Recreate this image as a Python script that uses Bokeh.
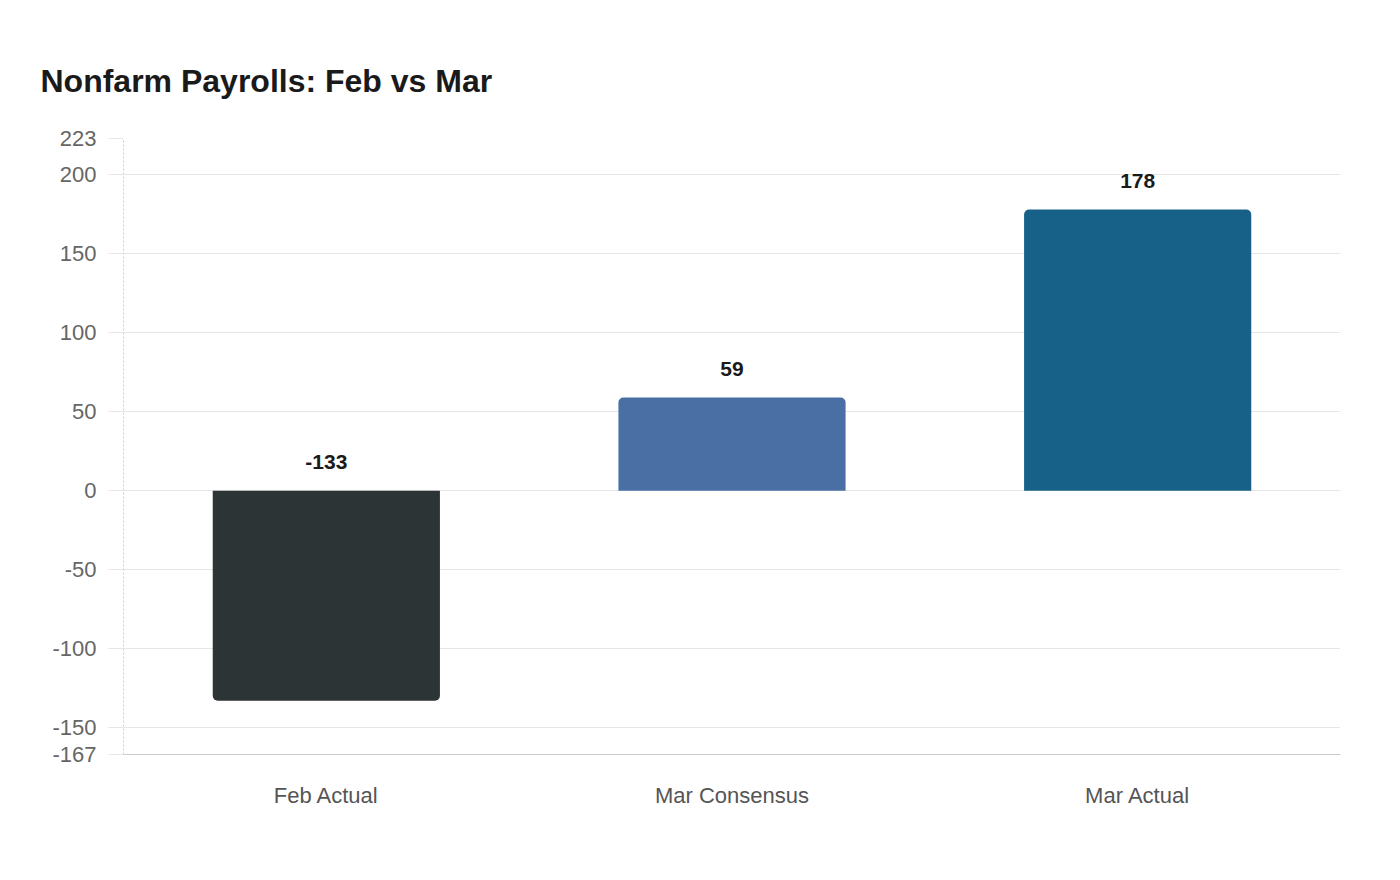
from bokeh.plotting import figure
from bokeh.models import ColumnDataSource, FixedTicker, LabelSet, Title, Range1d
from bokeh.core.properties import value
from bokeh.embed import file_html
from bokeh.resources import INLINE

categories = ["Feb Actual", "Mar Consensus", "Mar Actual"]
values = [-133, 59, 178]
colors = ["#2d3436", "#4a6fa5", "#176189"]
y_ticks = [-167, -150, -100, -50, 0, 50, 100, 150, 200, 223]
title_text = "Nonfarm Payrolls: Feb vs Mar"

FONT = "Liberation Sans"

p = figure(
    x_range=categories,
    y_range=Range1d(y_ticks[0], y_ticks[-1]),
    width=1384, height=864,
    output_backend="svg", toolbar_location=None,
    min_border_left=123, min_border_right=44,
    min_border_top=138, min_border_bottom=110,
)
p.background_fill_color = "white"
p.border_fill_color = "white"
p.outline_line_color = None

p.title = Title(text=title_text, align="left", text_font=FONT,
                text_font_size="32px", text_font_style="bold",
                text_color="#1a1a1a", offset=-83, standoff=80)

pos = [i for i, v in enumerate(values) if v >= 0]
neg = [i for i, v in enumerate(values) if v < 0]

def src(idx):
    return ColumnDataSource(dict(
        x=[categories[i] for i in idx],
        top=[max(values[i], 0) for i in idx],
        bottom=[min(values[i], 0) for i in idx],
        color=[colors[i] for i in idx],
    ))

p.vbar(x="x", top="top", bottom="bottom", width=0.56, source=src(pos),
       fill_color="color", line_color=None, border_radius=(5, 5, 0, 0))
p.vbar(x="x", top="top", bottom="bottom", width=0.56, source=src(neg),
       fill_color="color", line_color=None, border_radius=(0, 0, 5, 5))

lab_src = ColumnDataSource(dict(
    x=categories,
    y=[max(v, 0) for v in values],
    text=[str(v) for v in values],
))
p.add_layout(LabelSet(x="x", y="y", text="text", source=lab_src,
                      y_offset=29, text_align="center", text_baseline="middle",
                      text_font=value(FONT), text_font_size=value("21px"),
                      text_font_style="bold", text_color="#1a1a1a"))

# axes
p.yaxis.ticker = FixedTicker(ticks=y_ticks)
p.yaxis.major_label_overrides = {t: str(t) for t in y_ticks}
p.yaxis.axis_line_color = "#cccccc"
p.yaxis.axis_line_dash = "2 2"
p.yaxis.major_tick_out = 15
p.yaxis.major_tick_in = 0
p.yaxis.major_tick_line_color = "#e6e6e6"
p.yaxis.minor_tick_line_color = None
p.yaxis.major_label_standoff = 12
p.yaxis.major_label_text_font = FONT
p.yaxis.major_label_text_font_size = "22px"
p.yaxis.major_label_text_color = "#666666"

p.xaxis.axis_line_color = "#cccccc"
p.xaxis.major_tick_line_color = None
p.xaxis.minor_tick_line_color = None
p.xaxis.major_label_standoff = 22
p.xaxis.major_label_text_font = FONT
p.xaxis.major_label_text_font_size = "22px"
p.xaxis.major_label_text_color = "#555555"

p.xgrid.grid_line_color = None
p.ygrid.grid_line_color = "#e6e6e6"
p.ygrid.grid_line_width = 1

open("out.html", "w").write(file_html(p, INLINE))
